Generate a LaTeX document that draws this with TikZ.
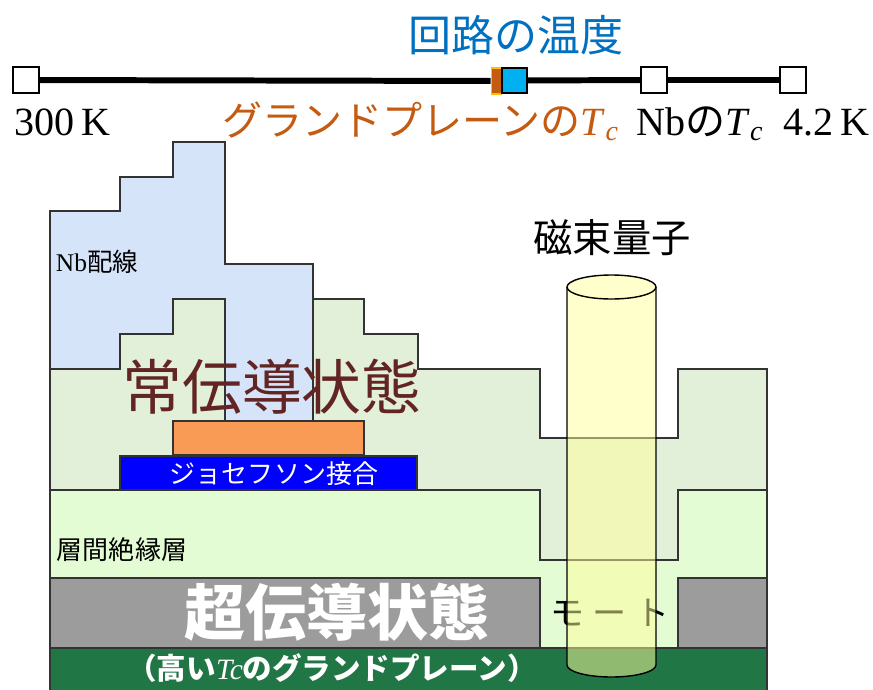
\documentclass[tikz,border=0pt]{standalone}
\usepackage{fontspec}
\setmainfont{Liberation Serif}
\newfontfamily\jp{Noto Sans CJK JP}
\usetikzlibrary{positioning}

\definecolor{tempblue}{HTML}{0070C0}
\definecolor{gpbrown}{HTML}{C55A11}
\definecolor{gpedge}{HTML}{FFC000}
\definecolor{nowblue}{HTML}{00B0F0}
\definecolor{wiring}{HTML}{D6E4FA}
\definecolor{normalgreen}{HTML}{E2F0D9}
\definecolor{insul}{HTML}{E4FCD4}
\definecolor{supergray}{HTML}{9C9C9C}
\definecolor{ground}{HTML}{217645}
\definecolor{barrier}{HTML}{F99B55}
\definecolor{junction}{HTML}{0000FF}
\definecolor{flux}{HTML}{FFFF99}
\definecolor{normtext}{HTML}{632523}

\newcommand{\Tc}{\textit{T}\textsubscript{\textit{c}}}

\begin{document}
\begin{tikzpicture}
    [
        x=0.02cm, y=-0.02cm,
        tempbox/.style={rectangle, draw, fill=white, line width=1.2pt, minimum size=0.52cm, inner sep=0pt,},
        bar/.style={line width=3.4pt,},
        scaletext/.style={inner sep=0pt, anchor=base west, font=\fontsize{22.8}{26}\selectfont,},
        layer/.style={draw=black!80, line width=0.8pt,},
        jptext/.style={inner sep=0pt, font=\jp\fontsize{14.8}{17}\selectfont,},
        bigtext/.style={inner sep=0pt, font=\jp\fontsize{34}{38}\selectfont,},
    ]
    \useasboundingbox (0,0) rectangle (873,690);

    % temperature scale
    \node (title) at (516,35) [inner sep=0pt, text=tempblue, font=\jp\fontsize{24.5}{28}\selectfont] {回路の温度};

    \node (t300) at (26,80)      [tempbox] {};
    \node (tgp)  at (496.5,81)   [rectangle, draw=gpedge, fill=gpbrown, line width=1pt,
                                  minimum width=0.2cm, minimum height=0.52cm, inner sep=0pt] {};
    \node (tnow) at (514.5,80.5) [tempbox, fill=nowblue, minimum size=0.5cm] {};
    \node (tnb)  at (654,80)     [tempbox] {};
    \node (t42)  at (793,80)     [tempbox] {};

    \draw [bar]
    (t300) -- (tgp)
    (tnow) -- (tnb) -- (t42);

    \node (l300) at (14,135)  [scaletext] {300\,K};
    \node (lgp)  at (222,135) [scaletext, text=gpbrown] {{\jp グランドプレーンの}\Tc};
    \node (lnb)  at (636,135) [scaletext] {Nb{\jp の}\Tc};
    \node (l42)  at (783,135) [scaletext] {4.2\,K};

    % Nb wiring
    \filldraw [layer, fill=wiring]
    (50,421) -- (50,211) -- (120,211) -- (120,177) -- (173,177) -- (173,142)
    -- (225,142) -- (225,264) -- (313,264) -- (313,421) -- cycle;

    % insulation, normal layer
    \filldraw [layer, fill=insul] (50,490) rectangle (767,648);
    \filldraw [layer, fill=normalgreen]
    (50,490) -- (50,369) -- (120,369) -- (120,334) -- (173,334) -- (173,299)
    -- (225,299) -- (225,421) -- (313,421) -- (313,299) -- (364,299) -- (364,334)
    -- (418,334) -- (418,369) -- (540,369) -- (540,438) -- (678,438) -- (678,369)
    -- (767,369) -- (767,490) -- (678,490) -- (678,560) -- (540,560) -- (540,490) -- cycle;

    % superconducting layer with moat
    \filldraw [layer, fill=supergray] (50,578) rectangle (540,648);
    \filldraw [layer, fill=supergray] (678,578) rectangle (767,648);
    \filldraw [layer, fill=ground] (50,648) rectangle (767,700);

    % junction
    \filldraw [layer, fill=barrier] (173,421) rectangle (364,455);
    \filldraw [layer, fill=junction] (120,456) rectangle (417,490);

    \node (jj)    at (274,474) [jptext, text=white] {ジョセフソン接合};
    \node (wire)  at (97,262)  [inner sep=0pt, font=\fontsize{14.5}{17}\selectfont] {Nb{\jp 配線}};
    \node (ild)   at (122,550) [jptext] {層間絶縁層};
    \node (norm)  at (272,387) [bigtext, text=normtext] {常伝導状態};
    \node (sc)    at (337,612) [bigtext, text=white, font=\jp\bfseries\fontsize{34.7}{38}\selectfont] {超伝導状態};
    \node (gp)    at (332,668) [inner sep=0pt, text=white, font=\jp\bfseries\fontsize{16.8}{19}\selectfont]
                               {（高い{\rmfamily\mdseries\itshape Tc}のグランドプレーン）};
    \node (moat)  at (610,613) [inner sep=0pt, font=\jp\fontsize{19.4}{22}\selectfont] {モ\kern5pt ー\kern5pt ト};

    % flux quantum
    \fill [flux, opacity=0.5]
    (567,287) -- (567,665) arc [start angle=180, end angle=360, x radius=0.89cm, y radius=0.24cm]
    -- (656,287) -- cycle;
    \draw [line width=0.8pt]
    (567,287) -- (567,665) arc [start angle=180, end angle=360, x radius=0.89cm, y radius=0.24cm]
    -- (656,287);
    \filldraw [line width=0.8pt, fill=flux!50] (611.5,287) ellipse [x radius=0.89cm, y radius=0.24cm];

    \node (phi) at (612,238) [inner sep=0pt, font=\jp\fontsize{22.4}{26}\selectfont] {磁束量子};
\end{tikzpicture}
\end{document}
